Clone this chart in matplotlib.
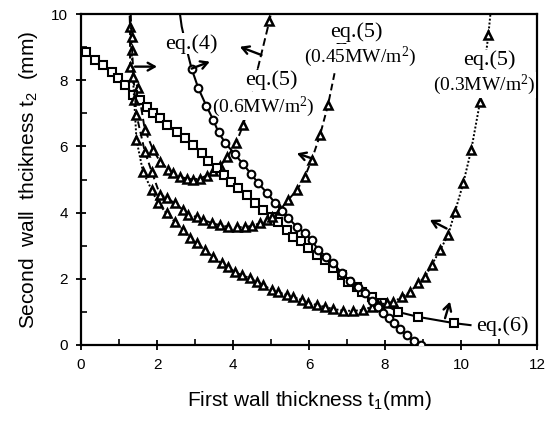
import matplotlib
matplotlib.use("Agg")
import matplotlib.pyplot as plt
from matplotlib.ticker import MultipleLocator

plt.rcParams['font.family'] = ['Liberation Sans', 'DejaVu Sans']
plt.rcParams['mathtext.fontset'] = 'stix'
plt.rcParams['mathtext.default'] = 'regular'

# eq.(6) - squares, solid
eq6_x = [0.12, 0.37, 0.59, 0.81, 0.98, 1.16, 1.38, 1.55, 1.73, 1.9, 2.08, 2.25, 2.52, 2.74, 2.96,
         3.18, 3.34, 3.57, 3.75, 3.96, 4.14, 4.36, 4.58, 4.8, 5.02, 5.19, 5.41, 5.59, 5.78, 5.98,
         6.2, 6.42, 6.63, 6.87, 7.03, 7.26, 7.39, 7.66, 7.92, 8.34, 8.87, 9.82]
eq6_y = [8.85, 8.61, 8.46, 8.26, 8.08, 7.85, 7.55, 7.4, 7.2, 7.0, 6.85, 6.65, 6.44, 6.24, 6.04,
         5.79, 5.56, 5.34, 5.14, 4.93, 4.75, 4.53, 4.28, 4.08, 3.88, 3.73, 3.47, 3.27, 3.15, 2.92,
         2.72, 2.57, 2.33, 2.11, 1.9, 1.75, 1.6, 1.45, 1.27, 1.0, 0.85, 0.66]
eq6_tail_x = [9.82, 10.25]
eq6_tail_y = [0.66, 0.6]

# eq.(4) - circles, solid
eq4_line_x = [2.58, 2.65, 2.82, 2.91]
eq4_line_y = [10.2, 9.62, 8.76, 8.35]
eq4_x = [2.91, 3.09, 3.3, 3.48, 3.62, 3.8, 4.05, 4.27, 4.48, 4.67, 4.89, 5.1, 5.29, 5.46, 5.68,
         5.9, 6.07, 6.24, 6.46, 6.63, 6.86, 7.08, 7.3, 7.47, 7.65, 7.82, 7.96, 8.1, 8.23, 8.4,
         8.57, 8.75, 8.95]
eq4_y = [8.35, 7.75, 7.22, 6.8, 6.42, 6.1, 5.76, 5.46, 5.16, 4.88, 4.6, 4.3, 4.06, 3.83, 3.57,
         3.37, 3.17, 2.88, 2.66, 2.47, 2.18, 1.92, 1.74, 1.56, 1.32, 1.15, 0.97, 0.82, 0.66, 0.47,
         0.3, 0.12, 0.0]

# eq.(5) 0.6 MW/m2 - triangles, dashed
q06_x = [1.27, 1.29, 1.29, 1.5, 1.68, 1.9, 2.08, 2.3, 2.43, 2.6, 2.78, 2.95, 3.13, 3.31, 3.48,
         3.66, 3.85, 4.08, 4.27, 4.62, 4.96, 5.05]
q06_y = [10.3, 9.62, 8.41, 7.76, 6.5, 5.89, 5.54, 5.3, 5.19, 5.08, 5.03, 5.0, 5.03, 5.12, 5.26,
         5.4, 5.68, 6.1, 6.65, 8.2, 9.8, 10.3]

# eq.(5) 0.45 MW/m2 - triangles, dashed
q045_x = [1.3, 1.33, 1.38, 1.46, 1.68, 1.86, 2.08, 2.25, 2.47, 2.69, 2.82, 3.04, 3.22, 3.45, 3.66,
          3.88, 4.1, 4.31, 4.5, 4.71, 4.89, 5.02, 5.24, 5.45, 5.68, 5.89, 6.07, 6.29, 6.5, 6.85]
q045_y = [10.3, 9.3, 8.1, 6.95, 5.84, 5.24, 4.53, 4.45, 4.28, 4.08, 3.93, 3.87, 3.78, 3.68, 3.62,
          3.57, 3.56, 3.56, 3.6, 3.68, 3.78, 3.87, 4.08, 4.38, 4.68, 5.08, 5.59, 6.34, 7.25, 9.2]

# eq.(5) 0.3 MW/m2 - triangles, dotted
q03_x = [1.28, 1.33, 1.4, 1.46, 1.63, 1.86, 2.03, 2.25, 2.47, 2.69, 2.87, 3.04, 3.26, 3.48, 3.7,
         3.88, 4.05, 4.23, 4.45, 4.62, 4.8, 5.02, 5.19, 5.41, 5.59, 5.81, 5.98, 6.2, 6.42, 6.63,
         6.9, 7.16, 7.42, 7.65, 7.87, 8.05, 8.22, 8.44, 8.66, 8.87, 9.05, 9.23, 9.45, 9.66, 9.84,
         10.06, 10.27, 10.5, 10.72, 10.8]
q03_y = [10.3, 8.9, 7.4, 6.2, 5.24, 4.68, 4.28, 3.98, 3.72, 3.47, 3.23, 3.08, 2.87, 2.66, 2.47,
         2.36, 2.2, 2.11, 2.02, 1.9, 1.81, 1.66, 1.6, 1.51, 1.45, 1.36, 1.27, 1.21, 1.15, 1.09,
         1.04, 1.03, 1.06, 1.15, 1.22, 1.27, 1.3, 1.45, 1.6, 1.87, 2.05, 2.42, 2.87, 3.32, 4.02,
         4.89, 5.9, 7.34, 9.37, 10.3]

# normal-direction arrows (tail x, tail y, head x, head y)
arrow_tail_x = [1.42, 2.91, 4.75, 6.07, 9.62, 9.58]
arrow_tail_y = [8.41, 8.35, 8.76, 5.64, 3.52, 0.81]
arrow_head_x = [2.0, 3.39, 4.18, 5.68, 9.18, 9.71]
arrow_head_y = [8.41, 8.56, 9.01, 5.79, 3.78, 1.31]

fig = plt.figure(figsize=(5.54, 4.25), dpi=100)
ax = fig.add_axes([81/554, 80/425, 456/554, 331/425])

tri = dict(marker='^', markersize=6, markerfacecolor='white', markeredgecolor='black',
           markeredgewidth=1.8, color='black', lw=1.4)

ax.plot(q03_x, q03_y, linestyle=(0, (1, 1)), zorder=4, **tri)
ax.plot(q06_x, q06_y, linestyle=(0, (4, 2)), zorder=2, **tri)
ax.plot(q045_x, q045_y, linestyle=(0, (3.5, 2)), zorder=4, **tri)

ax.plot(eq4_line_x, eq4_line_y, color='black', lw=1.5, zorder=2)
ax.plot(eq4_x, eq4_y, color='black', lw=1.5, marker='o', markersize=5.5, markerfacecolor='white',
        markeredgecolor='black', markeredgewidth=1.5, zorder=4)

ax.plot(eq6_tail_x, eq6_tail_y, color='black', lw=1.5, zorder=3)
ax.plot(eq6_x, eq6_y, color='black', lw=1.5, marker='s', markersize=5.8, markerfacecolor='white',
        markeredgecolor='black', markeredgewidth=1.5, zorder=3)

for tx, ty, hx, hy in zip(arrow_tail_x, arrow_tail_y, arrow_head_x, arrow_head_y):
    ax.annotate('', xy=(hx, hy), xytext=(tx, ty),
                arrowprops=dict(arrowstyle='->,head_length=0.5,head_width=0.28', lw=1.7,
                                color='black', shrinkA=0, shrinkB=0), zorder=6)

serif = ['Liberation Serif', 'DejaVu Serif']
bb = dict(facecolor='white', edgecolor='none', pad=0.5)
ax.text(2.9, 9.1, 'eq.(4)', family=serif, fontsize=16, ha='center', va='center', bbox=bb, zorder=5)
ax.text(5.0, 8.0, 'eq.(5)', family=serif, fontsize=16, ha='center', va='center', bbox=bb, zorder=3)
ax.text(3.45, 7.2, r'(0.6MW/m$^{2}$)', family=serif, fontsize=14, ha='left', va='center', bbox=bb, zorder=3)
ax.text(7.25, 9.45, 'eq.(5)', family=serif, fontsize=16, ha='center', va='center', bbox=bb, zorder=5)
ax.text(7.35, 8.7, r'(0.45MW/m$^{2}$)', family=serif, fontsize=14, ha='center', va='center', bbox=bb, zorder=5)
ax.text(10.75, 8.6, 'eq.(5)', family=serif, fontsize=16, ha='center', va='center', bbox=bb, zorder=5)
ax.text(10.6, 7.85, r'(0.3MW/m$^{2}$)', family=serif, fontsize=14, ha='center', va='center', bbox=bb, zorder=5)
ax.text(10.4, 0.57, 'eq.(6)', family=serif, fontsize=16, ha='left', va='center', zorder=5)

ax.set_xlim(0, 12)
ax.set_ylim(0, 10)
ax.xaxis.set_major_locator(MultipleLocator(2))
ax.xaxis.set_minor_locator(MultipleLocator(1))
ax.yaxis.set_major_locator(MultipleLocator(2))
ax.yaxis.set_minor_locator(MultipleLocator(1))
ax.tick_params(which='major', direction='inout', length=7, width=1.3, labelsize=11, pad=6)
ax.tick_params(which='minor', direction='in', length=4, width=1.2)
for s in ax.spines.values():
    s.set_linewidth(1.6)

ax.set_xlabel('First wall thickness t$_{1}$(mm)', fontsize=15, labelpad=12)
ax.set_ylabel('Second  wall  thcikness t$_{2}$  (mm)', fontsize=15, labelpad=8)

fig.savefig('out.png', dpi=100)
